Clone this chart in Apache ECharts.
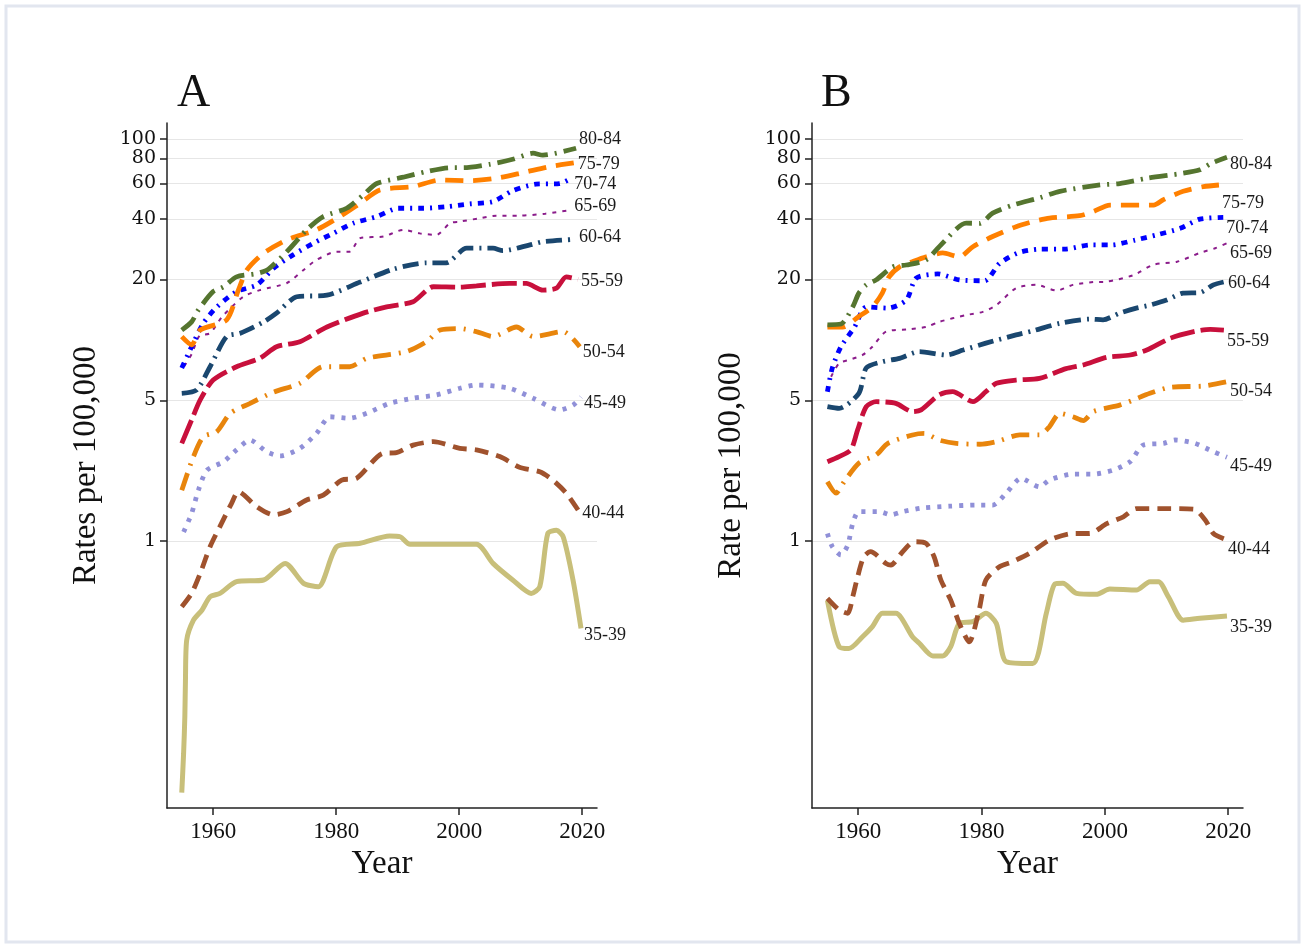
<!DOCTYPE html>
<html>
<head>
<meta charset="utf-8">
<script src="https://cdn.jsdelivr.net/npm/echarts@6/dist/echarts.min.js"></script>
<style>
  html, body { margin: 0; padding: 0; background: #fff; }
  #chart { width: 1303px; height: 945px; }
</style>
</head>
<body>
<div id="chart"></div>
<script>
// age groups, bottom to top
var AGES = ['35-39', '40-44', '45-49', '50-54', '55-59', '60-64', '65-69', '70-74', '75-79', '80-84'];
var Y_TICKS = [1, 5, 20, 40, 60, 80, 100];
var X_TICKS = [1960, 1980, 2000, 2020];

// panel A  [year, rate per 100,000]
var A_35_39 = [[1954.9,0.056],[1955.2,0.088],[1955.4,0.134],[1955.5,0.203],[1955.7,0.321],[1956.8,0.404],[1958.2,0.454],[1959.5,0.528],[1961.1,0.549],[1963.8,0.628],[1968.2,0.64],[1971.7,0.774],[1974.7,0.616],[1977.1,0.593],[1980.1,0.937],[1983.9,0.974],[1988.7,1.06],[1990.4,1.05],[1992,0.963],[2002.8,0.963],[2005.5,0.774],[2008.7,0.64],[2011.7,0.549],[2013.1,0.593],[2014.4,1.09],[2015.8,1.13],[2016.9,1.05],[2018.5,0.64],[2019.8,0.368]];
var A_40_44 = [[1954.9,0.471],[1956.5,0.549],[1957.9,0.69],[1959.5,0.937],[1961.1,1.18],[1963,1.54],[1964.1,1.76],[1967.1,1.48],[1969.8,1.35],[1972,1.4],[1975.2,1.6],[1977.9,1.69],[1980.9,2.01],[1983.3,2.05],[1987.6,2.73],[1989.8,2.75],[1992.5,3.0],[1995.8,3.12],[2000.1,2.89],[2002.8,2.84],[2006.6,2.63],[2009.8,2.33],[2013.1,2.21],[2015.2,2.01],[2017.4,1.73],[2019.5,1.4]];
var A_45_49 = [[1955.2,1.11],[1956.5,1.37],[1957.6,1.79],[1959,2.25],[1961.7,2.48],[1963.8,2.84],[1966,3.18],[1968.7,2.78],[1970.9,2.65],[1974.1,2.89],[1976.8,3.43],[1979,4.15],[1982.2,4.08],[1985,4.32],[1988.7,4.84],[1992.5,5.13],[1996.3,5.33],[2000.1,5.75],[2002.8,5.97],[2008.2,5.75],[2012,5.13],[2016.3,4.49],[2018.5,4.74],[2019.8,5.2]];
var A_50_54 = [[1954.9,1.79],[1956.8,2.63],[1958.4,3.3],[1960.6,3.5],[1962.8,4.32],[1966,4.84],[1969.8,5.5],[1974.1,6.09],[1977.9,7.36],[1982.2,7.36],[1985,8.11],[1991.4,8.75],[1994.7,9.81],[1996.9,11.2],[2000.1,11.4],[2002.8,11.0],[2005.5,10.4],[2009.3,11.6],[2012,10.4],[2016.9,11.0],[2019.6,9.26]];
var A_55_59 = [[1954.9,3.06],[1956.5,4.0],[1957.9,5.03],[1960,6.32],[1963.8,7.36],[1967.6,8.11],[1970.3,9.26],[1974.1,9.81],[1978.5,11.6],[1984.4,13.6],[1988.2,14.6],[1992.5,15.5],[1995.8,18.4],[2000.1,18.3],[2002.8,18.6],[2008.2,19.1],[2010.9,19.1],[2013.6,17.7],[2015.8,18.1],[2017.4,20.6],[2019.3,20.0]];
var A_60_64 = [[1954.9,5.43],[1957.3,5.64],[1959.5,7.36],[1962.2,10.4],[1964.4,10.8],[1968.2,12.3],[1970.3,13.6],[1973.6,16.4],[1978.5,16.7],[1983.9,19.4],[1989.3,22.5],[1994.7,24.2],[1997.9,24.2],[2001.2,28.6],[2005.5,28.6],[2007.1,27.8],[2011.5,29.7],[2013.6,30.8],[2019,31.7]];
var A_65_69 = [[1955.3,7.4],[1956.5,8.5],[1957.8,10.5],[1959.5,10.8],[1961.5,13.1],[1964.9,16.4],[1967.6,17.7],[1972,19.2],[1974.7,22.3],[1976.8,25],[1980.1,27.5],[1982.2,27.5],[1983.9,32.1],[1987.7,32.7],[1990.9,35.3],[1993.6,33.9],[1996.3,33.3],[1998.5,38.1],[2000.1,38.8],[2003.3,40.3],[2006,41.5],[2009.6,41.5],[2014,42.5],[2018.2,44.3]];
var A_70_74 = [[1954.9,7.26],[1956.5,9.26],[1958.4,12.1],[1960.6,14.6],[1963.8,17.4],[1967.1,18.8],[1969.8,22.7],[1973,26.5],[1976.3,30.3],[1979.5,33.9],[1982.8,38.1],[1986.6,41.1],[1990.1,45.2],[1994.1,45.2],[1997.9,46],[2001.7,47.5],[2005.5,48.8],[2008.7,55.3],[2012.5,59.6],[2016.3,60],[2018.2,63.7]];
var A_75_79 = [[1954.9,10.4],[1956.5,9.47],[1957.9,11.2],[1962.2,12.6],[1964.1,17.7],[1965.5,22.3],[1968.2,27],[1972,31.5],[1976.8,35.3],[1980.6,41.1],[1983.9,47.9],[1987.1,55.7],[1992.5,57.9],[1996.9,62.5],[2001.7,62],[2006,63.7],[2010.4,68],[2014.7,72.8],[2018.8,76.2]];
var A_80_84 = [[1954.9,11.2],[1956.5,12.3],[1957.6,14.1],[1960,17.4],[1961.7,18.4],[1963.8,20.6],[1967.1,21.4],[1969,22.5],[1972.5,28.6],[1975.2,35.3],[1977.9,41.1],[1981.7,45.2],[1984.4,52.6],[1986.6,60],[1990.9,64.5],[1994.7,68.8],[1998.5,71.9],[2000.7,71.9],[2005,74.8],[2008.7,79.2],[2012,84.9],[2013.6,83],[2019,89.9]];

// panel B
var B_35_39 = [[1955,0.508],[1956.9,0.298],[1958.5,0.292],[1960.7,0.334],[1962.3,0.375],[1963.9,0.437],[1966.1,0.437],[1968.8,0.334],[1969.9,0.31],[1972.1,0.268],[1973.7,0.268],[1975,0.298],[1976.4,0.389],[1978.6,0.397],[1980.7,0.437],[1982.4,0.389],[1984,0.251],[1988.3,0.246],[1990.5,0.437],[1991.9,0.611],[1993.2,0.616],[1995.4,0.549],[1998.6,0.543],[2000.8,0.577],[2005.1,0.57],[2007.3,0.627],[2008.7,0.627],[2010.3,0.528],[2012.7,0.404],[2015.4,0.413],[2019.8,0.424]];
var B_40_44 = [[1955,0.519],[1956.9,0.454],[1958.3,0.437],[1959.1,0.528],[1959.9,0.664],[1960.9,0.835],[1962,0.885],[1964.5,0.774],[1965.3,0.76],[1967.2,0.885],[1969.1,0.992],[1971,0.974],[1972.3,0.835],[1973.4,0.64],[1975,0.508],[1976.4,0.389],[1978,0.315],[1979.6,0.454],[1980.7,0.64],[1982.9,0.745],[1985,0.789],[1987.8,0.869],[1991,1.01],[1994.8,1.09],[1997.5,1.09],[2000.3,1.22],[2003,1.32],[2005.1,1.45],[2009,1.45],[2014.4,1.44],[2016.3,1.27],[2017.6,1.09],[2019.5,1.02]];
var B_45_49 = [[1955,1.09],[1955.8,0.937],[1957.2,0.852],[1958.3,0.955],[1959.1,1.22],[1960.1,1.4],[1963.4,1.4],[1965.3,1.35],[1967.2,1.4],[1970.4,1.46],[1974.8,1.49],[1979.1,1.51],[1981.8,1.51],[1984,1.73],[1986.4,2.05],[1989.4,1.86],[1991,2.01],[1994.8,2.15],[1998.1,2.15],[2001.3,2.25],[2004.1,2.48],[2006.2,3.0],[2009.5,3.06],[2011.4,3.18],[2014.6,3.06],[2017.6,2.78],[2019.8,2.61]];
var B_50_54 = [[1955,1.97],[1956.4,1.73],[1957.7,1.97],[1960.1,2.44],[1962.9,2.68],[1964.8,3.06],[1968.8,3.37],[1970.7,3.43],[1973.1,3.18],[1975.9,3.06],[1979.7,3.03],[1982.4,3.12],[1986.2,3.37],[1989.4,3.37],[1991,3.7],[1992.7,4.32],[1994.8,4.15],[1996.5,3.97],[1998.1,4.4],[2002.4,4.74],[2004.6,5.03],[2007.3,5.43],[2010.6,5.82],[2016,5.9],[2019.8,6.2]];
var B_55_59 = [[1955,2.48],[1956.9,2.63],[1958.8,2.84],[1959.9,3.57],[1961.3,4.66],[1962.9,4.93],[1966.1,4.84],[1968.8,4.4],[1970.2,4.49],[1973.1,5.33],[1975.3,5.53],[1978.6,4.93],[1980.7,5.53],[1982.4,6.09],[1985.6,6.32],[1989.4,6.44],[1993.7,7.2],[1996.5,7.51],[2000.3,8.2],[2004.1,8.42],[2006.8,8.91],[2010.6,10.2],[2014.4,11.0],[2017.1,11.3],[2019.3,11.2]];
var B_60_64 = [[1955,4.66],[1956.9,4.57],[1960.1,5.43],[1961.3,7.26],[1963.9,7.8],[1966.7,8.1],[1969.9,8.75],[1974.3,8.42],[1977,8.91],[1980.7,9.64],[1985.6,10.6],[1988.3,11.1],[1992.7,12.1],[1997.6,12.7],[1999.7,12.6],[2002.4,13.6],[2005.1,14.4],[2007.3,14.9],[2010,15.8],[2012.7,17.1],[2015.4,17.2],[2017.6,18.8],[2019.5,19.5]];
var B_65_69 = [[1955.6,6.56],[1956.9,7.66],[1958.5,7.95],[1960.7,8.42],[1962.3,9.26],[1964.5,11.0],[1968.3,11.3],[1971,11.6],[1973.1,12.3],[1977.5,13.3],[1980.2,13.8],[1982.4,14.9],[1985.6,18.1],[1988.9,18.8],[1992.2,17.6],[1994.8,18.8],[1998.1,19.4],[2000.3,19.5],[2004.6,21],[2007.9,23.7],[2011.7,24.5],[2015.4,27.1],[2017.9,28.6],[2019.8,30.3]];
var B_70_74 = [[1955,5.53],[1955.8,7.26],[1957.2,9.26],[1959.4,11.6],[1961.3,14.6],[1964.8,14.4],[1967.8,15.8],[1969.4,20.3],[1972.9,21.3],[1976.4,19.9],[1980.5,19.7],[1982.9,24],[1985.9,27.1],[1989.4,28.3],[1993.5,28.3],[1997.6,29.7],[2001.1,29.7],[2004.9,31.4],[2008.4,33.3],[2012.2,35.9],[2015.4,39.9],[2019.2,40.7]];
var B_75_79 = [[1955,11.6],[1957.5,11.6],[1960.1,13.1],[1962.3,14.6],[1963.9,17.1],[1965,20.6],[1966.7,23.1],[1968.8,24.5],[1971,25.9],[1973.7,27.1],[1976.4,25.9],[1978.6,29.1],[1981.8,32.7],[1985.6,36.6],[1988.3,38.8],[1991,40.4],[1995.9,41.5],[1998.1,43.5],[2000.8,46.9],[2007.9,46.9],[2009.5,49.9],[2012.7,54.9],[2016,57.9],[2018.5,59]];
var B_80_84 = [[1955,11.9],[1957.2,12],[1959.1,14.6],[1960.1,17.1],[1961.3,18.8],[1962.9,19.9],[1965.6,23.1],[1967.8,23.6],[1971,25],[1973.4,29.7],[1977.5,38.1],[1979.7,38],[1981.8,42.7],[1985.1,46.9],[1989.4,50.9],[1992.7,54.9],[1999.2,59],[2002.4,60],[2006.8,63.7],[2012.7,67.5],[2015.4,70.2],[2017.3,75.7],[2019.8,81]];

var PANEL_A = [A_35_39, A_40_44, A_45_49, A_50_54, A_55_59, A_60_64, A_65_69, A_70_74, A_75_79, A_80_84];
var PANEL_B = [B_35_39, B_40_44, B_45_49, B_50_54, B_55_59, B_60_64, B_65_69, B_70_74, B_75_79, B_80_84];

// line styles (Stata-like)
var COLORS = ['#C8BF7A', '#A0522D', '#9090D8', '#E8850C', '#C8103C', '#1A476F', '#8B1C8B', '#0000FF', '#FF8000', '#55752F'];
var DASHES = ['solid', [14, 8], [4, 7], [18, 8, 2, 8], [25, 6], [16, 6, 2, 6], [4, 6], [6, 6, 2, 6], [18, 10], [18, 7, 2, 7]];
var WIDTHS = [5, 4.8, 4.8, 4.8, 4.8, 4.8, 2, 4.8, 4.8, 4.8];
// label nudges so the end labels sit like the original
var LABEL_DY_A = [7, 2, 6, 6, 2, -2, -4, 6, 2, -9];
var LABEL_DY_B = [11, 10, 9, 10, 11, 2, 10, 11, 18, 7];

var serif = '"Liberation Serif", "Times New Roman", serif';

function xAxisFor(idx) {
	return {
		type: 'value', gridIndex: idx, min: 1952.5, max: 2022.4,
		name: 'Year', nameLocation: 'middle', nameGap: 40,
		nameTextStyle: { fontFamily: serif, fontSize: 33, color: '#111' },
		axisLine: { lineStyle: { color: '#222', width: 1.5 } },
		axisTick: { show: true, length: 7, customValues: X_TICKS, lineStyle: { color: '#222', width: 1.5 } },
		axisLabel: { customValues: X_TICKS, margin: 12, fontFamily: serif, fontSize: 23, color: '#111',
			showMinLabel: true, showMaxLabel: true, hideOverlap: false,
			formatter: function (v) { return String(v); } },
		splitLine: { show: false }
	};
}

function yAxisFor(idx, title) {
	return {
		type: 'log', logBase: 10, gridIndex: idx, min: 0.047, max: 120,
		name: title, nameLocation: 'middle', nameGap: 64, nameRotate: 90,
		nameTextStyle: { fontFamily: serif, fontSize: 33, color: '#111' },
		axisLine: { show: true, lineStyle: { color: '#222', width: 1.5 } },
		axisTick: { show: true, length: 7, customValues: Y_TICKS, lineStyle: { color: '#222', width: 1.5 } },
		axisLabel: { customValues: Y_TICKS, margin: 11, fontFamily: '"DejaVu Serif", serif', fontSize: 19,
			color: '#111', showMinLabel: true, showMaxLabel: true, hideOverlap: false,
			formatter: function (v) { return String(Math.round(v)); } },
		splitLine: { show: true, lineStyle: { color: '#e6e6e6', width: 1 } }
	};
}

function seriesFor(panel, idx, dys) {
	return panel.map(function (data, i) {
		return {
			name: AGES[i], type: 'line', xAxisIndex: idx, yAxisIndex: idx,
			data: data, showSymbol: false, smooth: 0.25, z: 2 + i,
			lineStyle: { color: COLORS[i], width: WIDTHS[i], type: DASHES[i], cap: 'butt' },
			itemStyle: { color: COLORS[i] },
			endLabel: {
				show: true, formatter: AGES[i], distance: 3, offset: [0, dys[i]],
				fontFamily: serif, fontSize: 18, color: '#1a1a1a'
			},
			labelLayout: { hideOverlap: false },
			animation: false
		};
	});
}

var chart = echarts.init(document.getElementById('chart'), null, { renderer: 'canvas' });
chart.setOption({
	backgroundColor: '#fff',
	animation: false,
	title: [
		{ text: 'A', left: 172, top: 66, textStyle: { fontFamily: serif, fontSize: 46, fontWeight: 'normal', color: '#111' } },
		{ text: 'B', left: 816, top: 66, textStyle: { fontFamily: serif, fontSize: 46, fontWeight: 'normal', color: '#111' } }
	],
	graphic: [{
		type: 'rect', shape: { x: 6, y: 6, width: 1293, height: 936 },
		style: { fill: 'none', stroke: '#e2e6ef', lineWidth: 3 }, silent: true
	}],
	grid: [
		{ left: 167, top: 123, width: 430, height: 685, containLabel: false },
		{ left: 812, top: 123, width: 431, height: 685, containLabel: false }
	],
	xAxis: [xAxisFor(0), xAxisFor(1)],
	yAxis: [yAxisFor(0, 'Rates per 100,000'), yAxisFor(1, 'Rate per 100,000')],
	series: seriesFor(PANEL_A, 0, LABEL_DY_A).concat(seriesFor(PANEL_B, 1, LABEL_DY_B))
});
</script>
</body>
</html>
